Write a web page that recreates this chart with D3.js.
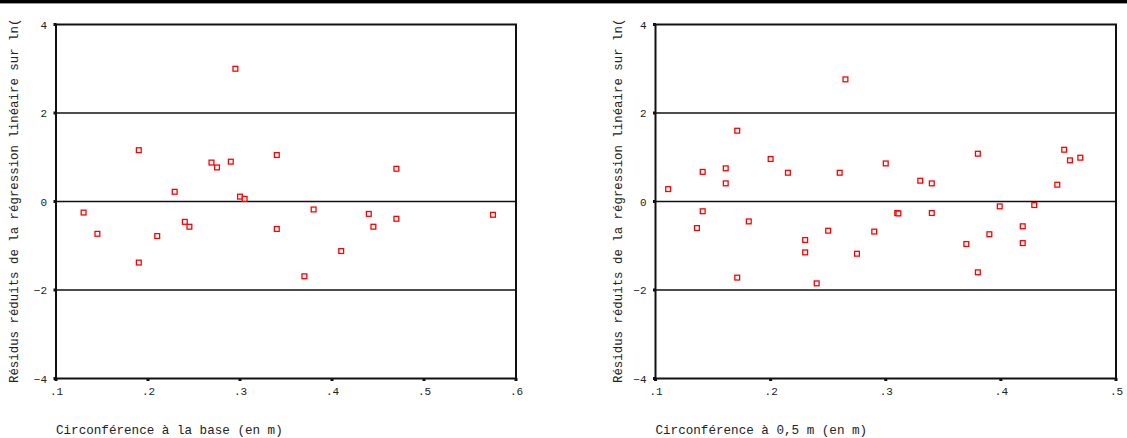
<!DOCTYPE html>
<html><head><meta charset="utf-8">
<script src="https://cdn.jsdelivr.net/npm/d3@7"></script>
<style>
html,body{margin:0;padding:0;background:#fff;}
svg{display:block;}
text{font-family:"Liberation Mono","Courier New",monospace;fill:#222;}
</style></head>
<body>
<svg id="chart" width="1127" height="438"></svg>
<script>
// ---- data ----
const yTicks = [-4, -2, 0, 2, 4];
const gridValues = [-2, 0, 2];
const leftXTicks = [0.1, 0.2, 0.3, 0.4, 0.5, 0.6];
const rightXTicks = [0.1, 0.2, 0.3, 0.4, 0.5];
const yTitle = "Résidus réduits de la régression linéaire sur ln(";
const leftXTitle = "Circonférence à la base (en m)";
const rightXTitle = "Circonférence à 0,5 m (en m)";

const leftX = [0.130,0.145,0.190,0.190,0.210,0.229,0.240,0.245,0.269,0.275,0.290,0.295,0.300,0.305,0.340,0.340,0.370,0.380,0.410,0.440,0.445,0.470,0.470,0.575];
const leftY = [-0.25,-0.73,1.16,-1.38,-0.78,0.22,-0.46,-0.57,0.88,0.77,0.90,3.00,0.11,0.06,1.05,-0.62,-1.69,-0.18,-1.12,-0.28,-0.57,0.74,-0.39,-0.30];

const rightX = [0.111,0.136,0.141,0.141,0.161,0.161,0.171,0.171,0.181,0.200,0.215,0.230,0.230,0.240,0.250,0.260,0.265,0.275,0.290,0.300,0.310,0.311,0.330,0.340,0.340,0.370,0.380,0.380,0.390,0.399,0.419,0.419,0.429,0.449,0.455,0.460,0.469];
const rightY = [0.28,-0.60,0.67,-0.22,0.75,0.41,1.60,-1.72,-0.45,0.96,0.65,-0.87,-1.15,-1.85,-0.66,0.65,2.76,-1.18,-0.68,0.86,-0.26,-0.27,0.47,0.41,-0.26,-0.96,1.08,-1.60,-0.74,-0.11,-0.56,-0.94,-0.08,0.38,1.17,0.93,0.99];

// ---- drawing ----
const svg = d3.select("#chart");
const yTop = 24.5, yBot = 378.5;

function panel(cfg){
  const x = d3.scaleLinear().domain(cfg.xDomain).range([cfg.x0, cfg.x1]);
  const y = d3.scaleLinear().domain([-4,4]).range([yBot, yTop]);
  const g = svg.append("g");

  // grid lines
  g.selectAll("line.grid").data(gridValues).join("line")
    .attr("x1",cfg.x0).attr("x2",cfg.x1)
    .attr("y1",d=>y(d)).attr("y2",d=>y(d))
    .attr("stroke","#111").attr("stroke-width",1.6);

  // frame
  g.append("rect").attr("x",cfg.x0).attr("y",yTop)
    .attr("width",cfg.x1-cfg.x0).attr("height",yBot-yTop)
    .attr("fill","none").attr("stroke","#111").attr("stroke-width",2);

  // y axis ticks (squares) + labels
  const yAxis = d3.axisLeft(y).tickValues(yTicks).tickSize(0).tickPadding(9)
    .tickFormat(d3.format("d"));
  const ya = g.append("g").attr("transform",`translate(${cfg.x0},0)`).call(yAxis);
  ya.select(".domain").remove();
  ya.selectAll("text").style("font-size","11px").style("font-family",'"Liberation Mono",monospace').attr("fill","#222");
  g.selectAll("rect.yt").data(yTicks).join("rect")
    .attr("x",cfg.x0-2.5).attr("y",d=>y(d)-1.5).attr("width",3).attr("height",3).attr("fill","#111");

  // x axis ticks + labels
  const xAxis = d3.axisBottom(x).tickValues(cfg.xTicks).tickSize(0).tickPadding(9)
    .tickFormat(d=>d3.format(".1f")(d).replace(/^0/,""));
  const xa = g.append("g").attr("transform",`translate(0,${yBot})`).call(xAxis);
  xa.select(".domain").remove();
  xa.selectAll("text").style("font-size","11px").style("font-family",'"Liberation Mono",monospace').attr("fill","#222");
  g.selectAll("rect.xt").data(cfg.xTicks).join("rect")
    .attr("x",d=>x(d)-1.5).attr("y",yBot-0.5).attr("width",3).attr("height",3).attr("fill","#111");

  // points
  const pts = cfg.xs.map((v,i)=>[v,cfg.ys[i]]);
  g.selectAll("rect.pt").data(pts).join("rect")
    .attr("x",d=>x(d[0])-2.4).attr("y",d=>y(d[1])-2.4)
    .attr("width",4.8).attr("height",4.8)
    .attr("fill","#fff").attr("stroke","#ff0000").attr("stroke-width",1.3);

  // y title
  svg.append("text")
    .attr("transform",`translate(${cfg.yTitleX},383) rotate(-90)`)
    .attr("dy","0.35em")
    .style("font-size","12.4px")
    .text(yTitle);

  // x title
  svg.append("text").attr("x",cfg.x0).attr("y",434)
    .style("font-size","12.6px").text(cfg.xTitle);
}

panel({x0:56, x1:516, xDomain:[0.1,0.6], xTicks:leftXTicks, xs:leftX, ys:leftY, yTitleX:13.5, xTitle:leftXTitle});
panel({x0:655.5, x1:1116, xDomain:[0.1,0.5], xTicks:rightXTicks, xs:rightX, ys:rightY, yTitleX:618, xTitle:rightXTitle});

// top rule
svg.append("rect").attr("x",0).attr("y",0).attr("width",1127).attr("height",3.4).attr("fill","#000");
</script>
</body></html>
